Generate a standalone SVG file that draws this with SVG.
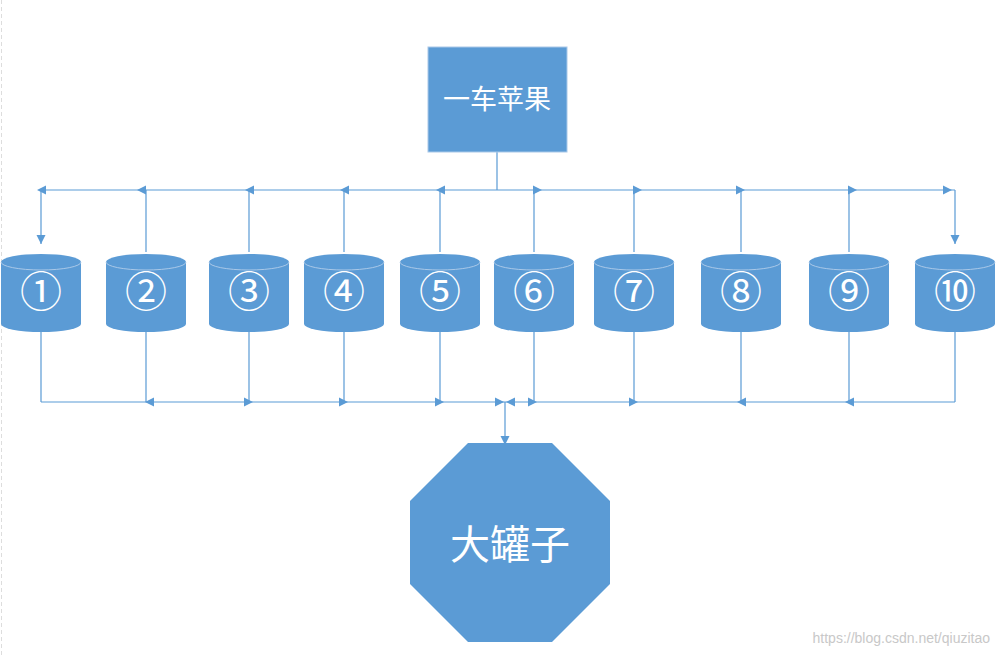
<svg xmlns="http://www.w3.org/2000/svg" width="998" height="656" viewBox="0 0 998 656">
<defs>
<style>
.ln{stroke:#5B9BD5;stroke-width:1.2;fill:none}
.ah{fill:#5B9BD5}
.cy{fill:#5B9BD5}
.cyt{fill:none;stroke:#A9C8E8;stroke-width:1}
.num{font-family:"Noto Sans CJK SC",sans-serif;font-size:42px;fill:#fff;text-anchor:middle}
.cn{font-family:"Noto Sans CJK SC",sans-serif;fill:#fff;text-anchor:middle}
</style>
<g id="cyl"><path class="cy" d="M-40,-30 A40,8 0 0 1 40,-30 V32 A40,8 0 0 1 -40,32 Z"/><path class="cyt" d="M-40,-30 A40,8 0 0 0 40,-30"/></g>
<path id="L" class="ah" d="M0,0 L9,-4.5 L9,4.5 Z"/>
<path id="R" class="ah" d="M0,0 L-9,-4.5 L-9,4.5 Z"/>
<path id="D" class="ah" d="M0,0 L-4.5,-9 L4.5,-9 Z"/>
</defs>
<rect width="998" height="656" fill="#fff"/>
<line x1="1.5" y1="0" x2="1.5" y2="656" stroke="#ddd" stroke-dasharray="4,3"/>
<g id="connectors">
<path class="ln" d="M497,152 V190 M41,190 H955 M41,190 V244 M955,190 V244 M146,190 V252 M249,190 V252 M344,190 V252 M440,190 V252 M534,190 V252 M634,190 V252 M741,190 V252 M849,190 V252"/>
<path class="ln" d="M41,402 H955 M41,332 V402 M146,332 V402 M249,332 V402 M344,332 V402 M440,332 V402 M534,332 V402 M634,332 V402 M741,332 V402 M849,332 V402 M955,332 V402 M505,402 V443"/>
<use href="#L" x="37" y="190"/><use href="#L" x="137" y="190"/><use href="#L" x="245" y="190"/><use href="#L" x="340" y="190"/><use href="#L" x="436" y="190"/>
<use href="#R" x="542" y="190"/><use href="#R" x="642" y="190"/><use href="#R" x="745" y="190"/><use href="#R" x="857" y="190"/><use href="#R" x="952" y="190"/>
<use href="#D" x="41" y="244"/><use href="#D" x="955" y="244"/>
<use href="#L" x="145" y="402"/><use href="#R" x="253" y="402"/><use href="#R" x="348" y="402"/><use href="#R" x="444" y="402"/><use href="#R" x="504" y="402"/><use href="#L" x="506" y="402"/><use href="#R" x="537" y="402"/><use href="#R" x="638" y="402"/><use href="#L" x="737" y="402"/><use href="#L" x="845" y="402"/>
<use href="#D" x="505" y="445"/>
</g>
<g id="apples"><rect x="428" y="47" width="139" height="105" fill="#5B9BD5" stroke="#A9C8E8"/><text class="cn" x="497" y="109" font-size="27">一车苹果</text></g>
<g id="c1"><use href="#cyl" x="41" y="292"/><text class="num" x="41" y="307">①</text></g>
<g id="c2"><use href="#cyl" x="146" y="292"/><text class="num" x="146" y="307">②</text></g>
<g id="c3"><use href="#cyl" x="249" y="292"/><text class="num" x="249" y="307">③</text></g>
<g id="c4"><use href="#cyl" x="344" y="292"/><text class="num" x="344" y="307">④</text></g>
<g id="c5"><use href="#cyl" x="440" y="292"/><text class="num" x="440" y="307">⑤</text></g>
<g id="c6"><use href="#cyl" x="534" y="292"/><text class="num" x="534" y="307">⑥</text></g>
<g id="c7"><use href="#cyl" x="634" y="292"/><text class="num" x="634" y="307">⑦</text></g>
<g id="c8"><use href="#cyl" x="741" y="292"/><text class="num" x="741" y="307">⑧</text></g>
<g id="c9"><use href="#cyl" x="849" y="292"/><text class="num" x="849" y="307">⑨</text></g>
<g id="c10"><use href="#cyl" x="955" y="292"/><text class="num" x="955" y="307">⑩</text></g>
<g id="jar"><polygon points="468,443 552,443 610,501 610,584 552,642 468,642 410,584 410,501" fill="#5B9BD5"/><text class="cn" x="510" y="559" font-size="40">大罐子</text></g>
<text x="990" y="643" font-family="Liberation Sans,sans-serif" font-size="14" fill="#c8c8c8" text-anchor="end">https://blog.csdn.net/qiuzitao</text>
</svg>
